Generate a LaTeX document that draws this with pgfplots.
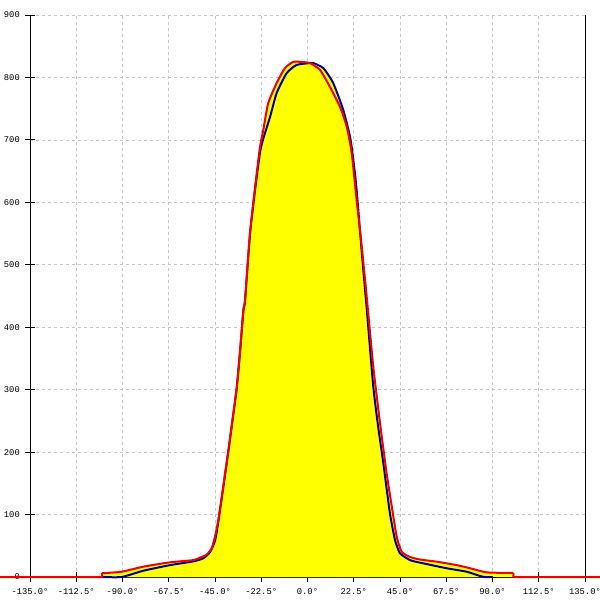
\documentclass[border=0pt]{standalone}
\usepackage{fontspec}
\setmonofont{Liberation Mono}
\usepackage{pgfplots}
\usepackage{pgfplotstable}
\pgfplotsset{compat=1.18}
\definecolor{cred}{HTML}{F00000}
\definecolor{cblue}{HTML}{0000A8}
\definecolor{cyell}{HTML}{FFFF00}
\definecolor{cgrid}{HTML}{C4C4C4}
\pgfplotstableread{
x y
-100.0 6
-90.4 8.5
-79.9 16.5
-66.9 23.5
-55.6 27
-52.3 31
-49 36
-46.6 46
-45 64.5
-43.4 91
-41 145
-38.5 203
-36.1 262
-34.4 305
-32.8 363
-31.2 428
-30.4 444
-28 550
-25.5 625
-23.1 689
-21.5 716
-19.1 759
-15 791
-11 815
-6.9 825
-3.7 825
1.2 823
6.1 812
10.9 785
15.8 753
19.1 721
21.5 679
23.9 604
26.4 529
28.8 449
32 337
35.3 246
38.5 166
41 113
43.4 64.5
45.8 40.5
49.9 32
54.7 28
62.9 24.5
72.6 19
79.1 14
85.5 8.5
88.8 7
100.1 6.5
}\reddata
\pgfplotstableread{
x y
-149.6 0
-100.1 0
-100.0 6
}\redleft
\pgfplotstableread{
x y
100.1 6.5
100.2 0
142.3 0
}\redright
\pgfplotstableread{
x y
-100.1 0
-90.4 0
-79.9 10
-66.9 19
-55.6 25
-50.7 30
-47.4 40
-45 58
-43.4 88
-41 143
-38.5 201
-36.1 260
-34.4 303
-32.8 361
-31.2 426
-30.4 442
-28 548
-25.5 620
-23.1 680
-21.5 702
-18.2 737
-15 775
-10.1 807
-5.3 820
1.2 823
2.8 823
7.7 815
12.5 791
17.4 748
20.7 705
22.3 668
23.9 620
26.4 520
28.8 430
32 305
34.4 240
36.9 182
40.1 102
42.6 59
45 38
49.9 27
54.7 23
67.7 14
77.4 8.5
83.9 1.6
86 0
90.2 0
}\bluedata
\begin{document}
\begin{tikzpicture}
\useasboundingbox (-30pt,-23pt) rectangle (570pt,577pt);
\begin{axis}[
  at={(0pt,0pt)}, anchor=south west,
  width=555pt, height=562pt, scale only axis,
  xmin=-135, xmax=135, ymin=0, ymax=900,
  clip=false,
  axis x line=bottom, axis y line=box,
  ytick pos=left,
  axis line style={-, black, line width=1pt},
  xtick={-135,-112.5,-90,-67.5,-45,-22.5,0,22.5,45,67.5,90,112.5,135},
  xticklabels={-135.0°,-112.5°,-90.0°,-67.5°,-45.0°,-22.5°,0.0°,22.5°,45.0°,67.5°,90.0°,112.5°,135.0°},
  ytick={0,100,...,900},
  grid=major,
  major grid style={cgrid, dash pattern=on 3pt off 3pt, line width=0.6pt},
  tick align=center, major tick length=10pt,
  tick style={black, line width=0.9pt},
  /pgf/number format/assume math mode=true,
  ticklabel style={font=\fontsize{8.8}{9}\selectfont\ttfamily, text=black},
  yticklabel style={inner sep=0pt, xshift=-5pt},
  xticklabel style={inner sep=0pt, yshift=-6.5pt},
]
\addplot[fill=cyell, draw=none, smooth, tension=0.35] table[x=x,y=y] {\reddata} \closedcycle;
\addplot[fill=cyell, draw=none, smooth, tension=0.35] table[x=x,y=y] {\bluedata} \closedcycle;
\addplot[cblue, line width=2pt, line join=round, smooth, tension=0.35] table[x=x,y=y] {\bluedata};
\addplot[cred, line width=2pt, line join=round, smooth, tension=0.35] table[x=x,y=y] {\reddata};
\addplot[cred, line width=2pt, line join=round] table[x=x,y=y] {\redleft};
\addplot[cred, line width=2pt, line join=round] table[x=x,y=y] {\redright};
\end{axis}
\end{tikzpicture}
\end{document}
